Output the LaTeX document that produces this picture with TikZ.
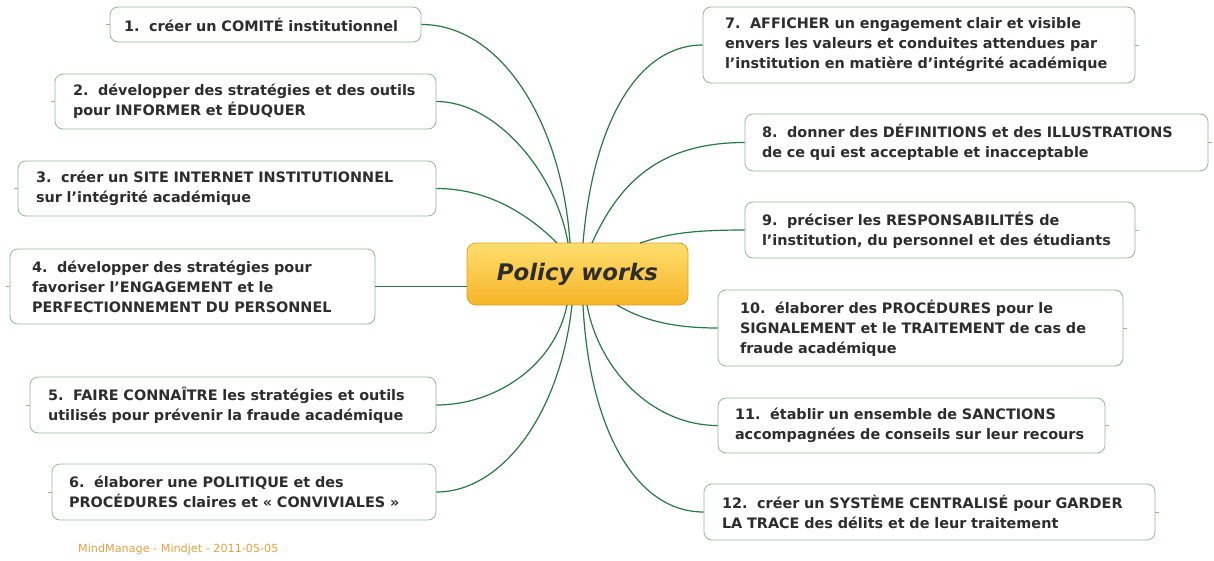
\documentclass[tikz,border=0pt]{standalone}
\usepackage{fontspec}
\setmainfont{DejaVu Sans}
\definecolor{boxc}{RGB}{150,180,160}
\definecolor{linkc}{RGB}{40,120,70}
\definecolor{txt}{RGB}{45,45,45}
\definecolor{ctop}{RGB}{255,222,110}
\definecolor{cbot}{RGB}{246,180,40}
\definecolor{cborder}{RGB}{225,160,40}
\definecolor{footc}{RGB}{230,160,70}
\begin{document}
\begin{tikzpicture}[x=1pt,y=-1pt,
  topic/.style={draw=boxc, line width=0.8pt, rounded corners=8pt, fill=white,
    align=left, font=\bfseries\fontsize{14.4}{20}\selectfont, text=txt,
    inner ysep=0pt, anchor=center},
  central/.style={draw=cborder, line width=0.8pt, rounded corners=9pt,
    top color=ctop, bottom color=cbot, text=txt,
    font=\bfseries\itshape\fontsize{22.8}{26}\selectfont,
    minimum width=221pt, minimum height=62pt, inner sep=0pt},
  link/.style={draw=linkc, line width=1.2pt},
  stub/.style={draw=boxc, line width=0.8pt}]
\useasboundingbox (0,0) rectangle (1214,560);

\node[central] (c) at (577.5,274) {Policy works};

\node[topic, text width=283pt, inner xsep=14pt, minimum height=35pt] (t1) at (265.5,24.5)
  {1.\ \ créer un COMITÉ institutionnel};
\node[topic, text width=345pt, inner xsep=18pt, minimum height=55pt] (t2) at (245.5,101.5)
  {2.\ \ développer des stratégies et des outils\\pour INFORMER et ÉDUQUER};
\node[topic, text width=382pt, inner xsep=18pt, minimum height=55pt] (t3) at (227,188.5)
  {3.\ \ créer un SITE INTERNET INSTITUTIONNEL\\sur l’intégrité académique};
\node[topic, text width=321pt, inner xsep=22pt, minimum height=75pt] (t4) at (192.5,286.5)
  {4.\ \ développer des stratégies pour\\favoriser l’ENGAGEMENT et le\\PERFECTIONNEMENT DU PERSONNEL};
\node[topic, text width=370pt, inner xsep=18pt, minimum height=56pt] (t5) at (233,405)
  {5.\ \ FAIRE CONNAÎTRE les stratégies et outils\\utilisés pour prévenir la fraude académique};
\node[topic, text width=350pt, inner xsep=17pt, minimum height=56pt] (t6) at (244,492)
  {6.\ \ élaborer une POLITIQUE et des\\PROCÉDURES claires et « CONVIVIALES »};

\node[topic, text width=388pt, inner xsep=22pt, minimum height=76pt] (t7) at (919,45)
  {7.\ \ AFFICHER un engagement clair et visible\\envers les valeurs et conduites attendues par\\l’institution en matière d’intégrité académique};
\node[topic, text width=429pt, inner xsep=17pt, minimum height=57pt] (t8) at (976.5,142.5)
  {8.\ \ donner des DÉFINITIONS et des ILLUSTRATIONS\\de ce qui est acceptable et inacceptable};
\node[topic, text width=356pt, inner xsep=17pt, minimum height=56pt] (t9) at (940,230)
  {9.\ \ préciser les RESPONSABILITÉS de\\l’institution, du personnel et des étudiants};
\node[topic, text width=361pt, inner xsep=22pt, minimum height=76pt] (t10) at (920.5,328)
  {10.\ \ élaborer des PROCÉDURES pour le\\SIGNALEMENT et le TRAITEMENT de cas de\\fraude académique};
\node[topic, text width=353pt, inner xsep=17pt, minimum height=55pt] (t11) at (911.5,425.5)
  {11.\ \ établir un ensemble de SANCTIONS\\accompagnées de conseils sur leur recours};
\node[topic, text width=415pt, inner xsep=18pt, minimum height=56pt] (t12) at (929.5,512)
  {12.\ \ créer un SYSTÈME CENTRALISÉ pour GARDER\\LA TRACE des délits et de leur traitement};

\node[text=footc, font=\fontsize{11.2}{12}\selectfont, anchor=west, inner sep=0pt] (foot) at (78,549)
  {MindManage - Mindjet - 2011-05-05};

% attach points on the central topic
\coordinate (c1) at (570,243);
\coordinate (c2) at (568,243);
\coordinate (c3) at (557,243);
\coordinate (c7) at (583,243);
\coordinate (c8) at (592,243);
\coordinate (c9) at (640,243);
\coordinate (c4) at (467,286.5);
\coordinate (c5) at (567,305);
\coordinate (c6) at (572,305);
\coordinate (c10) at (617,305);
\coordinate (c11) at (587,305);
\coordinate (c12) at (583,305);

\draw[link] (t1.east) .. controls +(80,0) and +(-8,-120) .. (c1);
\draw[link] (t2.east) .. controls +(60,0) and +(-12,-70) .. (c2);
\draw[link] (t3.east) .. controls +(55,0) and +(-25,-25) .. (c3);
\draw[link] (t4.east) -- (c4);
\draw[link] (c5) .. controls +(-12,60) and +(60,0) .. (t5.east);
\draw[link] (c6) .. controls +(-12,110) and +(65,0) .. (t6.east);
\draw[link] (t7.west) .. controls +(-65,0) and +(10,-120) .. (c7);
\draw[link] (t8.west) .. controls +(-90,0) and +(25,-55) .. (c8);
\draw[link] (t9.west) .. controls +(-60,0) and +(25,-8) .. (c9);
\draw[link] (c10) .. controls +(25,15) and +(-45,0) .. (t10.west);
\draw[link] (c11) .. controls +(12,65) and +(-65,0) .. (t11.west);
\draw[link] (c12) .. controls +(6,120) and +(-70,0) .. (t12.west);

% small stubs on the outer sides
\foreach \n in {t1,t2,t3,t4,t5,t6} \draw[stub] (\n.west) -- +(-4,0);
\foreach \n in {t7,t8,t9,t10,t11,t12} \draw[stub] (\n.east) -- +(4,0);
\end{tikzpicture}
\end{document}
